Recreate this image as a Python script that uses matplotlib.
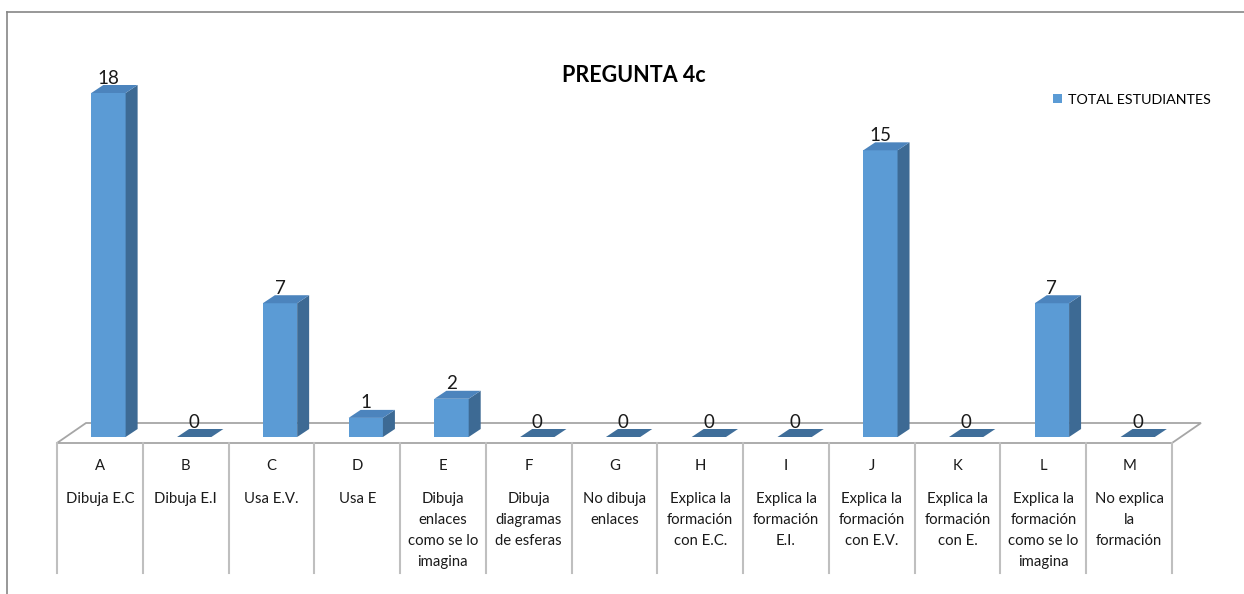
import matplotlib.pyplot as plt
from matplotlib.patches import Polygon
from matplotlib.lines import Line2D

plt.rcParams['font.family'] = ['Lato', 'DejaVu Sans']

letters = ['A', 'B', 'C', 'D', 'E', 'F', 'G', 'H', 'I', 'J', 'K', 'L', 'M']
descriptions = [
    'Dibuja E.C', 'Dibuja E.I', 'Usa E.V.', 'Usa E',
    'Dibuja\nenlaces\ncomo se lo\nimagina',
    'Dibuja\ndiagramas\nde esferas',
    'No dibuja\nenlaces',
    'Explica la\nformación\ncon E.C.',
    'Explica la\nformación\nE.I.',
    'Explica la\nformación\ncon E.V.',
    'Explica la\nformación\ncon E.',
    'Explica la\nformación\ncomo se lo\nimagina',
    'No explica\nla\nformación',
]
total = [18, 0, 7, 1, 2, 0, 0, 0, 0, 15, 0, 7, 0]

W, H = 1244, 594
fig = plt.figure(figsize=(W / 100, H / 100), dpi=100)
# plot area: value 0 sits at y=437 px, value 18 at y=93 px
ax = fig.add_axes([57 / W, (H - 437) / H, (1172 - 57) / W, (437 - 93) / H])
ax.set_xlim(-0.5, len(letters) - 0.5)
ax.set_ylim(0, 18)
ax.axis('off')

unit_x = (1172 - 57) / len(letters)   # px per category
unit_y = (437 - 93) / 18               # px per student

front = '#5b9bd5'
side = '#3d6a94'
top = '#4c84bd'
flat = '#3f6e9a'

# 3D offsets
bw = 0.4
shift = 0.1
ddx = 12 / unit_x
ddy = 8 / unit_y

# floor
fdx = 29 / unit_x
f_front = -6 / unit_y
f_back = 14 / unit_y
n = len(letters)
ax.add_patch(Polygon([(-0.5, f_front), (n - 0.5, f_front),
                      (n - 0.5 + fdx, f_back), (-0.5 + fdx, f_back)],
                     closed=True, facecolor='white', edgecolor='#a6a6a6',
                     lw=1.3, zorder=1, clip_on=False))

xs = list(range(n))
ax.bar([x + shift for x in xs], total, width=bw, color=front,
       label='TOTAL ESTUDIANTES', zorder=3, clip_on=False)

for x, v in zip(xs, total):
    l = x + shift - bw / 2
    r = x + shift + bw / 2
    if v > 0:
        ax.add_patch(Polygon([(r, 0), (r + ddx, ddy), (r + ddx, v + ddy), (r, v)],
                             closed=True, facecolor=side, edgecolor='none',
                             zorder=3, clip_on=False))
        col = top
    else:
        col = flat
    ax.add_patch(Polygon([(l, v), (r, v), (r + ddx, v + ddy), (l + ddx, v + ddy)],
                         closed=True, facecolor=col, edgecolor='none',
                         zorder=3, clip_on=False))
    ax.text(x + shift, v + ddy + 7 / unit_y, str(v), ha='center',
            va='center', fontsize=13.5, color='#1a1a1a', clip_on=False)

# category table below the floor
t_bottom = -(573 - 437) / unit_y
for k in range(n + 1):
    ax.add_line(Line2D([k - 0.5, k - 0.5], [f_front, t_bottom], color='#bfbfbf',
                       lw=1.5, zorder=1, clip_on=False))

letter_y = -(466 - 437) / unit_y
desc_y = -(499 - 437) / unit_y
pitch = 21 / unit_y
for x, let, desc in zip(xs, letters, descriptions):
    ax.text(x, letter_y, let, ha='center', va='center', fontsize=10.7,
            color='#1a1a1a', clip_on=False)
    for j, line in enumerate(desc.split('\n')):
        ax.text(x, desc_y - j * pitch, line, ha='center', va='center',
                fontsize=10.7, color='#1a1a1a', clip_on=False)

fig.text(634 / W, 1 - 75 / H, 'PREGUNTA 4c', ha='center', va='center',
         fontsize=15.5, fontweight='bold', color='#000000')

ax.legend(loc='center left', bbox_to_anchor=(1053 / W, 1 - 100 / H),
          bbox_transform=fig.transFigure, frameon=False, fontsize=10.3,
          handlelength=0.6, handleheight=0.6, handletextpad=0.45,
          borderpad=0, borderaxespad=0)

# chart frame
fig.add_artist(Line2D([7 / W, 1], [1 - 12 / H, 1 - 12 / H], color='#868686',
                      lw=1.2, transform=fig.transFigure))
fig.add_artist(Line2D([7 / W, 7 / W], [0, 1 - 12 / H], color='#868686',
                      lw=1.2, transform=fig.transFigure))

fig.savefig('out.png', dpi=100, facecolor='white')
